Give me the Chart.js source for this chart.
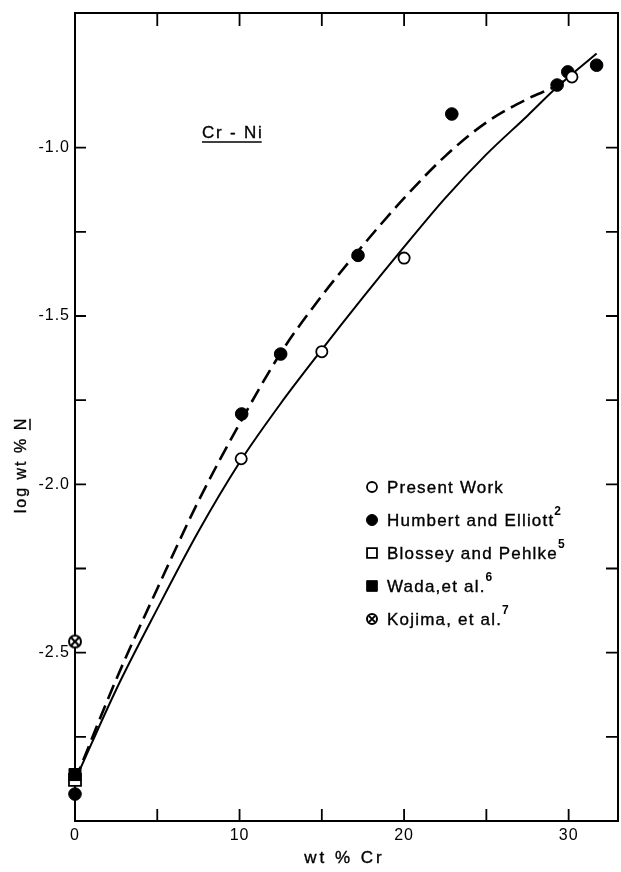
<!DOCTYPE html>
<html>
<head>
<meta charset="utf-8">
<script src="https://cdn.jsdelivr.net/npm/chart.js@4/dist/chart.umd.min.js"></script>
<style>
  html, body { margin: 0; padding: 0; background: #fff; }
  canvas { display: block; }
</style>
</head>
<body>
<canvas id="c" width="621" height="872"></canvas>
<script>
// ---------- data ----------
const presentX = [10.1, 15.0, 20.0, 30.2];
const presentY = [-1.924, -1.606, -1.328, -0.79];

const humbertX = [0, 10.13, 12.5, 17.2, 22.9, 29.3, 29.95, 31.7];
const humbertY = [-2.92, -1.791, -1.613, -1.32, -0.90, -0.814, -0.775, -0.755];

const blosseyX = [0];
const blosseyY = [-2.878];

const wadaX = [0];
const wadaY = [-2.862];

const kojimaX = [0];
const kojimaY = [-2.467];

// solid curve (present work)
const solidX = [0, 2.5, 5, 7.5, 10, 12.5, 15, 17.5, 20, 22.5, 25, 27.5, 29.3, 31.7];
const solidY = [-2.88, -2.61, -2.37, -2.14, -1.935, -1.76, -1.60, -1.445, -1.295, -1.15, -1.02, -0.905, -0.82, -0.72];

// dashed curve (Humbert and Elliott)
const dashX = [0, 2.5, 5, 7.5, 10, 12.5, 15, 17.5, 20, 22.5, 25, 27.5, 29.3, 30.2];
const dashY = [-2.88, -2.58, -2.31, -2.05, -1.82, -1.61, -1.44, -1.29, -1.15, -1.025, -0.925, -0.855, -0.815, -0.785];

const xTickValues = [5, 10, 15, 20, 25, 30];
const xTickLabels = { 0: '0', 10: '10', 20: '20', 30: '30' };
const yTickValues = [-2.75, -2.5, -2.25, -2.0, -1.75, -1.5, -1.25, -1.0];
const yTickLabels = { '-1': '-1.0', '-1.5': '-1.5', '-2': '-2.0', '-2.5': '-2.5' };

const legendLabels = ['Present Work', 'Humbert and Elliott', 'Blossey and Pehlke', 'Wada,et al.', 'Kojima, et al.'];
const legendSup = ['', '2', '5', '6', '7'];

const xTitle = 'wt % Cr';
const yTitleMain = 'log wt % ';
const yTitleN = 'N';
const systemLabel = 'Cr - Ni';

// ---------- helpers ----------
const pts = (xs, ys) => xs.map((v, i) => ({ x: v, y: ys[i] }));
const FONT = '"Liberation Sans", Arial, sans-serif';

// circle with an X marker
function makeKojima(r) {
  const c = document.createElement('canvas');
  const s = Math.ceil(2 * r + 4);
  c.width = s; c.height = s;
  const g = c.getContext('2d');
  const m = s / 2;
  g.fillStyle = '#fff';
  g.beginPath(); g.arc(m, m, r, 0, Math.PI * 2); g.fill();
  g.strokeStyle = '#000'; g.lineWidth = 2;
  g.beginPath(); g.arc(m, m, r, 0, Math.PI * 2); g.stroke();
  const d = r * 0.62;
  g.lineWidth = 2;
  g.beginPath();
  g.moveTo(m - d, m - d); g.lineTo(m + d, m + d);
  g.moveTo(m + d, m - d); g.lineTo(m - d, m + d);
  g.stroke();
  return c;
}
const kojimaImg = makeKojima(6);
const kojimaImgSmall = makeKojima(5);

const markerStyles = [
  { pointStyle: 'circle', radius: 5, backgroundColor: '#fff', borderColor: '#000', borderWidth: 1.8 },
  { pointStyle: 'circle', radius: 5.5, backgroundColor: '#000', borderColor: '#000', borderWidth: 1 },
  { pointStyle: 'rect', radius: 7, backgroundColor: '#fff', borderColor: '#000', borderWidth: 1.8 },
  { pointStyle: 'rect', radius: 7.5, backgroundColor: '#000', borderColor: '#000', borderWidth: 1 },
  { pointStyle: kojimaImgSmall, radius: 5, backgroundColor: '#000', borderColor: '#000', borderWidth: 1 }
];

function heavyText(ctx, s, x, y) {
  ctx.fillText(s, x, y);
  ctx.lineWidth = 0.35;
  ctx.strokeText(s, x, y);
}

// ---------- plugin: frame, inward ticks, texts, legend ----------
const deco = {
  id: 'deco',
  beforeLayout(chart) { chart.ctx.letterSpacing = '1px'; },
  beforeDraw(chart) {
    const ctx = chart.ctx;
    ctx.save();
    ctx.fillStyle = '#fff';
    ctx.fillRect(0, 0, chart.width, chart.height);
    ctx.restore();
    ctx.letterSpacing = '1px';
  },
  beforeDatasetsDraw(chart) {
    const { ctx, chartArea: a, scales: { x, y } } = chart;
    ctx.save();
    ctx.strokeStyle = '#000';
    ctx.lineWidth = 2;
    ctx.strokeRect(a.left, a.top, a.right - a.left, a.bottom - a.top);
    ctx.lineWidth = 1.8;
    ctx.beginPath();
    for (const v of xTickValues) {
      const px = x.getPixelForValue(v);
      ctx.moveTo(px, a.bottom); ctx.lineTo(px, a.bottom - 12);
      ctx.moveTo(px, a.top); ctx.lineTo(px, a.top + 13);
    }
    for (const v of yTickValues) {
      const py = y.getPixelForValue(v);
      ctx.moveTo(a.left, py); ctx.lineTo(a.left + 11, py);
      ctx.moveTo(a.right, py); ctx.lineTo(a.right - 12, py);
    }
    ctx.stroke();

    ctx.fillStyle = '#000';
    ctx.strokeStyle = '#000';

    // system label
    ctx.font = '17px ' + FONT;
    ctx.letterSpacing = '1.8px';
    ctx.textAlign = 'left';
    ctx.textBaseline = 'alphabetic';
    const lx = 202, ly = 138;
    heavyText(ctx, systemLabel, lx, ly);
    const w = ctx.measureText(systemLabel).width;
    ctx.lineWidth = 1.6;
    ctx.beginPath(); ctx.moveTo(lx, ly + 4); ctx.lineTo(lx + w - 2, ly + 4); ctx.stroke();

    // x axis title
    ctx.font = '17px ' + FONT;
    ctx.letterSpacing = '3px';
    ctx.textAlign = 'center';
    ctx.textBaseline = 'middle';
    heavyText(ctx, xTitle, (a.left + a.right) / 2 - 2, 858);

    // y axis title (rotated) with underlined N
    ctx.save();
    ctx.translate(26, 465);
    ctx.rotate(-Math.PI / 2);
    ctx.font = '16px ' + FONT;
    ctx.letterSpacing = '2px';
    ctx.textAlign = 'left';
    const w1 = ctx.measureText(yTitleMain).width;
    const w2 = ctx.measureText(yTitleN).width;
    const sx = -(w1 + w2) / 2;
    ctx.textBaseline = 'alphabetic';
    heavyText(ctx, yTitleMain, sx, 0);
    heavyText(ctx, yTitleN, sx + w1, 0);
    ctx.lineWidth = 1.5;
    ctx.beginPath(); ctx.moveTo(sx + w1, 4); ctx.lineTo(sx + w1 + w2 - 2, 4); ctx.stroke();
    ctx.restore();

    ctx.restore();
  },
  afterDatasetsDraw(chart) {
    const ctx = chart.ctx;
    ctx.save();
    const mx = 372, tx = 387, y0 = 487, dy = 33;
    for (let i = 0; i < legendLabels.length; i++) {
      const yy = y0 + i * dy;
      const ms = markerStyles[i];
      ctx.fillStyle = ms.backgroundColor;
      ctx.strokeStyle = ms.borderColor;
      ctx.lineWidth = ms.borderWidth;
      Chart.helpers.drawPoint(ctx, { pointStyle: ms.pointStyle, radius: ms.radius, rotation: 0, borderWidth: ms.borderWidth }, mx, yy);
      ctx.fillStyle = '#000';
      ctx.strokeStyle = '#000';
      ctx.font = '17px ' + FONT;
      ctx.letterSpacing = '1.2px';
      ctx.textAlign = 'left';
      ctx.textBaseline = 'middle';
      heavyText(ctx, legendLabels[i], tx, yy + 1);
      if (legendSup[i]) {
        const w = ctx.measureText(legendLabels[i]).width;
        ctx.font = 'bold 12px ' + FONT;
        ctx.letterSpacing = '0px';
        ctx.fillText(legendSup[i], tx + w, yy - 8);
      }
    }
    ctx.restore();
  }
};

const lineCommon = {
  showLine: true, pointRadius: 0, pointHoverRadius: 0, borderColor: '#000',
  fill: false, cubicInterpolationMode: 'monotone', clip: false
};

new Chart(document.getElementById('c'), {
  type: 'scatter',
  data: {
    datasets: [
      Object.assign({ label: 'fit present', data: pts(solidX, solidY), borderWidth: 2, order: 10 }, lineCommon),
      Object.assign({ label: 'fit Humbert', data: pts(dashX, dashY), borderWidth: 2.6, borderDash: [15, 7], order: 9 }, lineCommon),
      { label: legendLabels[2], data: pts(blosseyX, blosseyY), pointStyle: 'rect', pointRadius: 8.5,
        backgroundColor: '#fff', borderColor: '#000', borderWidth: 1.8, order: 6, clip: false },
      { label: legendLabels[3], data: pts(wadaX, wadaY), pointStyle: 'rect', pointRadius: 8.5,
        backgroundColor: '#000', borderColor: '#000', borderWidth: 1, order: 5, clip: false },
      { label: legendLabels[1], data: pts(humbertX, humbertY), pointStyle: 'circle', pointRadius: 6.3,
        backgroundColor: '#000', borderColor: '#000', borderWidth: 1, order: 2, clip: false },
      { label: legendLabels[0], data: pts(presentX, presentY), pointStyle: 'circle', pointRadius: 5.6,
        backgroundColor: '#fff', borderColor: '#000', borderWidth: 1.8, order: 1, clip: false },
      { label: legendLabels[4], data: pts(kojimaX, kojimaY), pointStyle: kojimaImg, pointRadius: 6,
        backgroundColor: '#000', borderColor: '#000', borderWidth: 1, order: 1, clip: false }
    ]
  },
  options: {
    responsive: false,
    animation: false,
    events: [],
    layout: { autoPadding: false, padding: { top: 13, right: 3, left: 0, bottom: 0 } },
    plugins: { legend: { display: false }, tooltip: { enabled: false }, title: { display: false } },
    scales: {
      x: {
        type: 'linear', min: 0, max: 33,
        grid: { display: false, drawTicks: false },
        border: { display: false },
        ticks: {
          stepSize: 5, autoSkip: false, maxRotation: 0, color: '#000', padding: 5,
          font: { family: FONT, size: 16 },
          callback: v => (xTickLabels[v] !== undefined ? xTickLabels[v] : '')
        },
        afterFit: s => { s.height = 51; s.paddingLeft = 0; s.paddingRight = 0; }
      },
      y: {
        type: 'linear', min: -3, max: -0.6,
        grid: { display: false, drawTicks: false },
        border: { display: false },
        ticks: {
          stepSize: 0.25, autoSkip: false, color: '#000', padding: 5,
          font: { family: FONT, size: 16 },
          callback: v => { const k = String(Math.round(v * 100) / 100); return yTickLabels[k] !== undefined ? yTickLabels[k] : ''; }
        },
        afterFit: s => { s.width = 75; s.paddingTop = 0; s.paddingBottom = 0; }
      }
    }
  },
  plugins: [deco]
});
</script>
</body>
</html>
